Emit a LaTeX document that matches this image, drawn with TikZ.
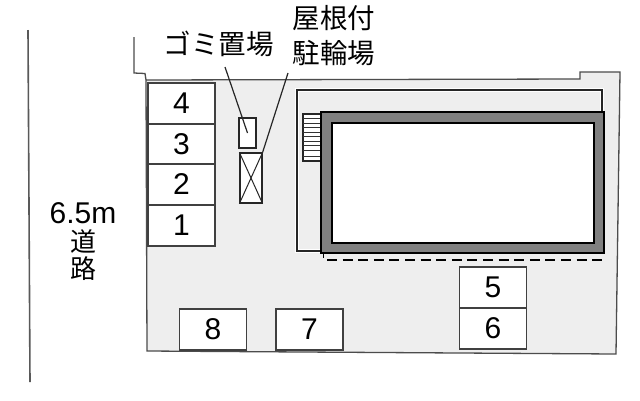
\documentclass[tikz,border=0pt]{standalone}
\usepackage{fontspec}
\setmainfont{Liberation Sans}
\newfontfamily\cjk{Noto Sans CJK JP}
\tikzset{
  lotline/.style={draw=black!70,line width=1.3pt},
  bay/.style={draw=black!75,fill=white,line width=1.3pt,minimum width=67pt,minimum height=41pt,inner sep=0pt,outer sep=0pt,font=\fontsize{30}{30}\selectfont},
  thin box/.style={draw=black!85,line width=1.2pt},
  jp/.style={font=\fontsize{27.5}{28}\selectfont\cjk,inner sep=0pt,align=center},
  leader/.style={draw=black!85,line width=1.2pt}
}
\begin{document}
\begin{tikzpicture}[x=1pt,y=-1pt]
\useasboundingbox (0,0) rectangle (640,400);
\fill[white] (0,0) rectangle (640,400);
% road
\draw[draw=black!65,line width=1.6pt] (28,30) -- (30,382);
\node[inner sep=0pt,font=\fontsize{30}{30}\selectfont] (road) at (83,213) {6.5m};
\node[jp,font=\fontsize{26}{27}\selectfont\cjk] (rd1) at (83,241.5) {道};
\node[jp,font=\fontsize{26}{27}\selectfont\cjk] (rd2) at (83,269) {路};
% lot
\fill[black!6.5] (146,80) -- (580,79) -- (580,72) -- (620,72) -- (616,354) -- (147,351) -- cycle;
\draw[lotline] (134,37) -- (134,73) -- (145,73.5) -- (146,80) -- (580,79) -- (580,72) -- (620,72) -- (616,354) -- (147,351) -- (146,80);
% bays
\node[bay] (b4) at (181.5,103.5) {4};
\node[bay] (b3) at (181.5,144.5) {3};
\node[bay] (b2) at (181.5,184.5) {2};
\node[bay] (b1) at (181.5,225.5) {1};
\node[bay] (b5) at (493,287.5) {5};
\node[bay] (b6) at (493,328.5) {6};
\node[bay] (b8) at (213,329.5) {8};
\node[bay] (b7) at (309.5,329.5) {7};
% fence
\draw[draw=white,line width=3.5pt] (297,90) rectangle (602,251);
\draw[thin box] (297,90) rectangle (602,251);
% stairs
\draw[thin box,fill=white] (303,114) rectangle (321,161);
\foreach \y in {118.5,123,127.5,132,136.5,141,145.5,150,156}{
  \draw[black!80,line width=.8pt] (303,\y) -- (321,\y);
}
% building
\draw[black,line width=1.8pt,fill=black!50] (321,112) rectangle (604,253);
\draw[black,line width=2.6pt,fill=white] (332,123) rectangle (594,243);
\draw[black,line width=1pt] (323,253) -- (323,258);
\coordinate (d1) at (327,260);
\coordinate (d2) at (604,260);
\draw[black,line width=1.3pt,dash pattern=on 10pt off 5.6pt] (d1) -- (d2);
% small boxes
\node[draw=black!85,fill=white,line width=1.2pt,minimum width=17pt,minimum height=30pt,inner sep=0pt] (gomi) at (247.5,133) {};
\node[draw=black!85,fill=white,line width=1.2pt,minimum width=22pt,minimum height=50pt,inner sep=0pt] (bike) at (251,178) {};
\draw[black!85,line width=1pt] (bike.north west) -- (bike.south east) (bike.north east) -- (bike.south west);
% labels
\node[jp] (lg) at (218.5,44) {ゴミ置場};
\node[jp,font=\fontsize{27.5}{35}\selectfont\cjk] (lb) at (334,36) {屋根付\\駐輪場};
% leaders
\coordinate (l1) at (225,67);
\coordinate (l2) at (288,73);
\draw[leader] (l1) -- (gomi.center);
\draw[leader] (l2) -- (bike.north east);
\end{tikzpicture}
\end{document}
